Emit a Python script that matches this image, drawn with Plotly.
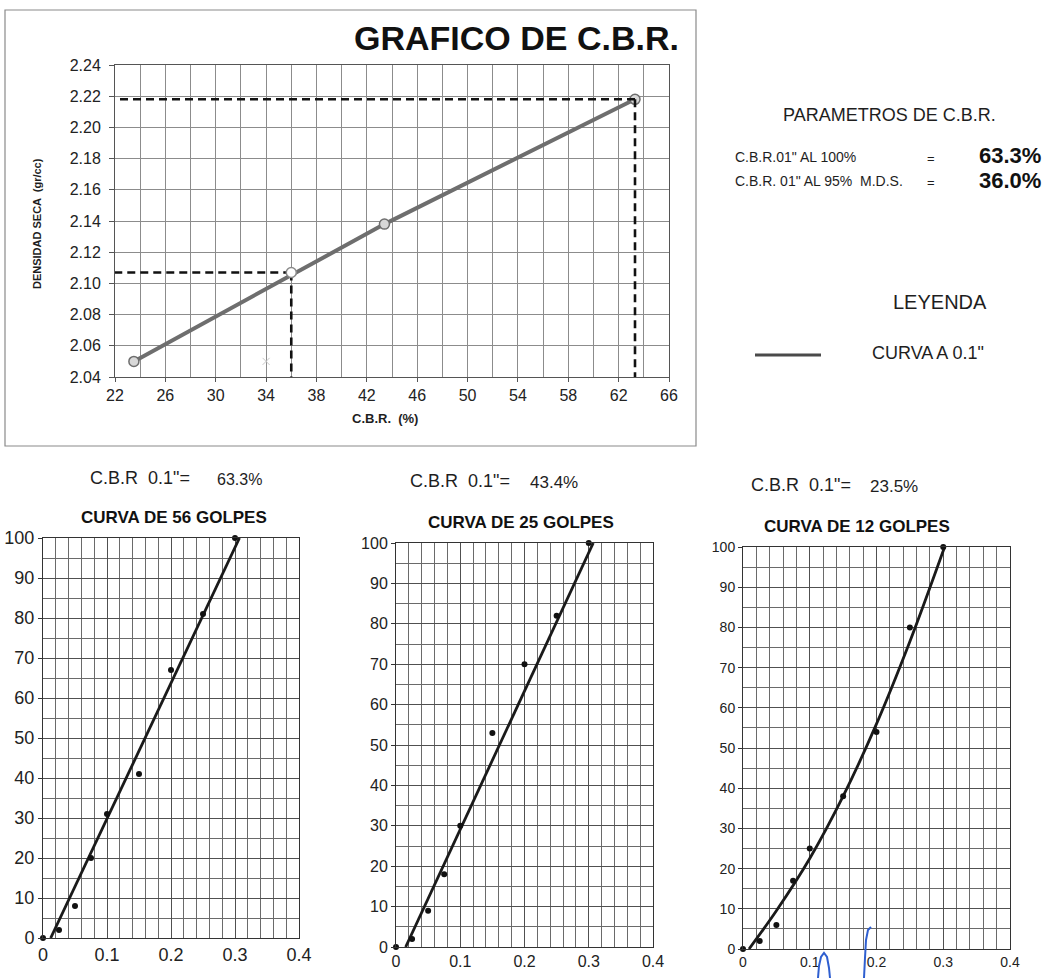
import plotly.graph_objects as go

W, H = 1049, 978

# ---- CBR vs dry density ----
cbr_pts = [23.5, 43.4, 63.3]          # C.B.R. at 0.1" for 12, 25, 56 blows
dens_pts = [2.050, 2.138, 2.218]      # dry density (gr/cc)
cbr_100 = 63.3
cbr_95 = 36.0
dens_max = 2.218
dens_95 = 2.107
stray_x = [34.0]
stray_y = [2.050]

cbr_ticks = [22, 26, 30, 34, 38, 42, 46, 50, 54, 58, 62, 66]
dens_ticks = [2.04, 2.06, 2.08, 2.10, 2.12, 2.14, 2.16, 2.18, 2.20, 2.22, 2.24]

# ---- load-penetration curves ----
pen = [0, 0.025, 0.05, 0.075, 0.1, 0.15, 0.2, 0.25, 0.3]
load_56 = [0, 2, 8, 20, 31, 41, 67, 81, 100]
load_25 = [0, 2, 9, 18, 30, 53, 70, 82, 100]
load_12 = [0, 2, 6, 17, 25, 38, 54, 80, 100]

fit_56_x = [0.012, 0.307]
fit_56_y = [0, 100]
fit_25_x = [0.015, 0.307]
fit_25_y = [0, 100]
fit_12_x = [0.009, 0.05, 0.1, 0.15, 0.2, 0.25, 0.302]
fit_12_y = [0, 9.5, 22.5, 38, 56, 76.5, 100]

pen_ticks = [0, 0.1, 0.2, 0.3, 0.4]
pen_labels = ["0", "0.1", "0.2", "0.3", "0.4"]
load_ticks = [0, 10, 20, 30, 40, 50, 60, 70, 80, 90, 100]

curves = [
    ("CURVA DE 56 GOLPES", load_56, fit_56_x, fit_56_y, cbr_pts[2]),
    ("CURVA DE 25 GOLPES", load_25, fit_25_x, fit_25_y, cbr_pts[1]),
    ("CURVA DE 12 GOLPES", load_12, fit_12_x, fit_12_y, cbr_pts[0]),
]


def px(x):
    return x / W


def py(y):
    return 1 - y / H


FONT = "Liberation Sans, Arial, sans-serif"
fig = go.Figure()

# main chart
fig.add_trace(go.Scatter(
    x=cbr_pts, y=dens_pts, mode="lines+markers", xaxis="x", yaxis="y",
    line=dict(color="#6e6e6e", width=4),
    marker=dict(size=10, color="#d8d8d8", line=dict(color="#6e6e6e", width=1.5)),
    cliponaxis=False, showlegend=False))
dash = dict(color="#111", width=2.6, dash="8px,5px")
fig.add_trace(go.Scatter(x=[cbr_100, 22], y=[dens_max, dens_max], mode="lines",
                         xaxis="x", yaxis="y", line=dash, showlegend=False))
fig.add_trace(go.Scatter(x=[cbr_100, cbr_100], y=[dens_max, 2.04], mode="lines",
                         xaxis="x", yaxis="y", line=dash, showlegend=False))
fig.add_trace(go.Scatter(x=[cbr_95, 22], y=[dens_95, dens_95], mode="lines",
                         xaxis="x", yaxis="y", line=dash, showlegend=False))
fig.add_trace(go.Scatter(x=[cbr_95, cbr_95], y=[dens_95, 2.04], mode="lines",
                         xaxis="x", yaxis="y", line=dash, showlegend=False))
fig.add_trace(go.Scatter(
    x=[cbr_95], y=[dens_95], mode="markers", xaxis="x", yaxis="y",
    marker=dict(size=10, color="white", line=dict(color="#8a8a8a", width=1.5)),
    cliponaxis=False, showlegend=False))
fig.add_trace(go.Scatter(
    x=stray_x, y=stray_y, mode="markers", xaxis="x", yaxis="y",
    marker=dict(symbol="x-thin", size=7, line=dict(color="#c8c8c8", width=1)),
    showlegend=False))

# penetration curves
for i, (title, load, fx, fy, cbr) in enumerate(curves):
    xa = "x%d" % (i + 2)
    ya = "y%d" % (i + 2)
    fig.add_trace(go.Scatter(
        x=fx, y=fy, mode="lines", xaxis=xa, yaxis=ya,
        line=dict(color="#1a1a1a", width=2.8, shape="spline" if len(fx) > 2 else "linear"),
        cliponaxis=False, showlegend=False))
    fig.add_trace(go.Scatter(
        x=pen, y=load, mode="markers", xaxis=xa, yaxis=ya,
        marker=dict(size=6, color="#111"), cliponaxis=False, showlegend=False))

# axes
main_grid = "#8c8c8c"
fig.update_layout(
    xaxis=dict(domain=[px(115), px(669)], range=[22, 66], tickvals=cbr_ticks,
               showgrid=True, gridcolor=main_grid, gridwidth=1,
               minor=dict(dtick=2, tick0=22, showgrid=True, gridcolor=main_grid, gridwidth=1),
               showline=True, linecolor="#555", mirror=True, zeroline=False,
               ticks="outside", ticklen=4, tickcolor="#555", automargin=False,
               tickfont=dict(family=FONT, size=16, color="#222"), anchor="y"),
    yaxis=dict(domain=[py(377), py(65)], range=[2.04, 2.24], tickvals=dens_ticks,
               tickformat=".2f", showgrid=True, gridcolor=main_grid, gridwidth=1,
               showline=True, linecolor="#555", mirror=True, zeroline=False,
               ticks="outside", ticklen=5, tickcolor="#555", automargin=False,
               ticklabelstandoff=5,
               tickfont=dict(family=FONT, size=16, color="#222"), anchor="x"),
)

boxes = [(43, 299, 538, 938, 18), (396, 653, 543, 947, 16), (743, 1010, 547, 949, 14)]
grid_c = "#505050"
for i, (x0, x1, y0, y1, fs) in enumerate(boxes):
    n = i + 2
    fig.layout["xaxis%d" % n] = dict(
        domain=[px(x0), px(x1)], range=[0, 0.4], tickvals=pen_ticks, ticktext=pen_labels,
        showgrid=True, gridcolor=grid_c, gridwidth=1,
        minor=dict(dtick=0.02, tick0=0, showgrid=True, gridcolor="#6a6a6a", gridwidth=1),
        showline=True, linecolor="#333", mirror=True, zeroline=False, automargin=False,
        ticks="", tickfont=dict(family=FONT, size=fs, color="#222"),
        anchor="y%d" % n)
    fig.layout["yaxis%d" % n] = dict(
        domain=[py(y1), py(y0)], range=[0, 100], tickvals=load_ticks,
        showgrid=True, gridcolor=grid_c, gridwidth=1,
        minor=dict(dtick=5, tick0=0, showgrid=True, gridcolor="#6a6a6a", gridwidth=1),
        showline=True, linecolor="#333", mirror=True, zeroline=False, automargin=False,
        ticks="outside", ticklen=4, tickcolor="#333",
        tickfont=dict(family=FONT, size=fs, color="#222"),
        anchor="x%d" % n)

ann = []


def text(x, y, s, size, bold=False, xanchor="left", angle=0, color="#1e1e1e"):
    if bold:
        s = "<b>%s</b>" % s
    ann.append(dict(x=px(x), y=py(y), xref="paper", yref="paper", text=s,
                    showarrow=False, xanchor=xanchor, yanchor="middle",
                    textangle=angle, font=dict(family=FONT, size=size, color=color)))


text(516, 38, "GRAFICO DE C.B.R.", 34, bold=True, xanchor="center", color="#111")
text(37, 224, "DENSIDAD SECA  (gr/cc)", 11, bold=True, xanchor="center", angle=-90)
text(385, 418, "C.B.R.  (%)", 13, bold=True, xanchor="center")

text(889, 115, "PARAMETROS DE C.B.R.", 18, xanchor="center")
text(733, 157, "C.B.R.01\" AL 100%", 14)
text(733, 181, "C.B.R. 01\" AL 95%  M.D.S.", 14)
text(931, 158, "=", 13, xanchor="center")
text(931, 182, "=", 13, xanchor="center")
text(1043, 156, "%.1f%%" % cbr_100, 22, bold=True, xanchor="right", color="#111")
text(1043, 180, "%.1f%%" % cbr_95, 22, bold=True, xanchor="right", color="#111")
text(940, 302, "LEYENDA", 20, xanchor="center")
text(870, 353, "CURVA A 0.1\"", 18)

sub_pos = [(88, 478, 215, 16), (408, 481, 528, 17), (749, 485, 868, 17)]
title_pos = [(174, 517), (521, 522), (857, 526)]
for (title, load, fx, fy, cbr), (lx, ly, vx, vs), (tx, ty) in zip(curves, sub_pos, title_pos):
    text(lx, ly, "C.B.R&nbsp;&nbsp;0.1\"=", 18)
    text(vx, ly + 1, "%.1f%%" % cbr, vs)
    text(tx, ty, title, 17, bold=True, xanchor="center", color="#111")

shapes = [
    dict(type="rect", xref="paper", yref="paper", x0=px(5), x1=px(696), y0=py(446), y1=py(10),
         line=dict(color="#8a8a8a", width=1.2)),
    dict(type="line", xref="paper", yref="paper", x0=px(755), x1=px(821), y0=py(355), y1=py(355),
         line=dict(color="#4a4a4a", width=3)),
]


# hand-written pen strokes on the 12-blow sheet
def pen_path(points):
    return "M " + " L ".join("%.5f,%.5f" % (px(x), py(y)) for x, y in points)


pen_strokes = [
    [(818, 978), (819, 966), (821, 957), (824, 953), (827, 957), (829, 968), (830, 978)],
    [(864, 978), (865, 958), (866, 940), (868, 930), (871, 927)],
]
for s in pen_strokes:
    shapes.append(dict(type="path", xref="paper", yref="paper", path=pen_path(s),
                       line=dict(color="#2f5fd0", width=2)))

fig.update_layout(
    width=W, height=H, margin=dict(l=0, r=0, t=0, b=0, autoexpand=False),
    paper_bgcolor="white", plot_bgcolor="white",
    annotations=ann, shapes=shapes, showlegend=False,
)

fig.write_html("out.html")
